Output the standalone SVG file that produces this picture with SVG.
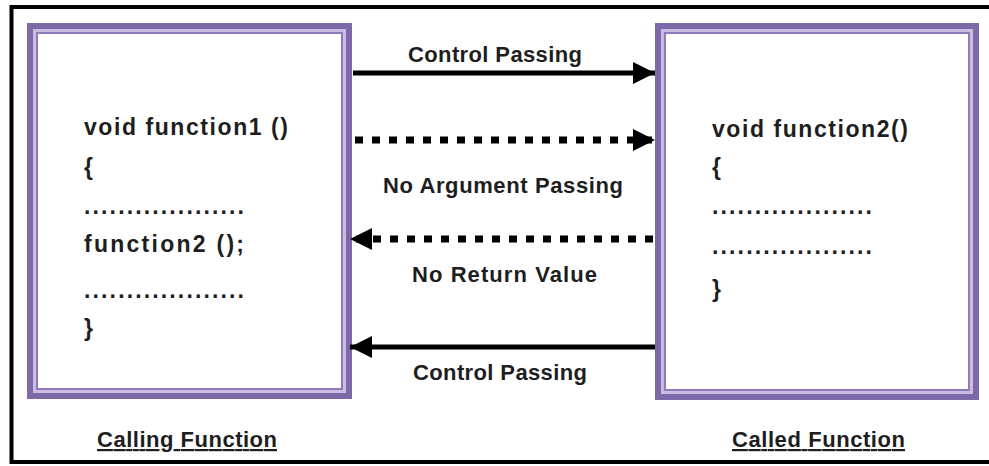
<svg xmlns="http://www.w3.org/2000/svg" width="989" height="466" viewBox="0 0 989 466">
<style>
text{font-family:"Liberation Sans",Arial,sans-serif;font-weight:bold;fill:#1e1e1e;}
.code{font-size:23px;}
.lbl{font-size:22px;}
.cap{font-size:22px;text-decoration:underline;}
.band{fill:none;stroke:#7d68a8;stroke-width:6;}
.gap{fill:none;stroke:#cbbce4;stroke-width:3;}
.thin{fill:none;stroke:#8f7bba;stroke-width:2;}
.solid{stroke:#000;stroke-width:5;fill:none;}
.dot{stroke:#000;stroke-width:7;fill:none;stroke-dasharray:8 9;}
</style>
<defs>
<marker id="ah" markerUnits="userSpaceOnUse" markerWidth="24" markerHeight="24" refX="22" refY="12" orient="auto">
<path d="M0,1 L22,12 L0,23 Z" fill="#000"/>
</marker>
</defs>
<rect width="989" height="466" fill="#fff"/>
<rect x="11.5" y="7" width="990" height="455" fill="#fff" stroke="#000" stroke-width="4"/>

<g id="calling">
<rect class="band" x="30" y="26" width="319" height="370"/>
<rect class="gap" x="34.5" y="30.5" width="310" height="361"/>
<rect class="thin" x="37" y="33" width="305" height="356" fill="#fff"/>
<text class="code" x="84" y="135" textLength="204" lengthAdjust="spacing">void function1 ()</text>
<text class="code" x="84" y="175">{</text>
<text class="code" x="84" y="214" textLength="160" lengthAdjust="spacing">...................</text>
<text class="code" x="84" y="252" textLength="160" lengthAdjust="spacing">function2 ();</text>
<text class="code" x="84" y="298" textLength="160" lengthAdjust="spacing">...................</text>
<text class="code" x="84" y="336">}</text>
</g>

<g id="called">
<rect class="band" x="658" y="26" width="318" height="371"/>
<rect class="gap" x="662.5" y="30.5" width="309" height="362"/>
<rect class="thin" x="665" y="33" width="304" height="357" fill="#fff"/>
<text class="code" x="712" y="137" textLength="196" lengthAdjust="spacing">void function2()</text>
<text class="code" x="712" y="175">{</text>
<text class="code" x="712" y="214" textLength="160" lengthAdjust="spacing">...................</text>
<text class="code" x="712" y="254" textLength="160" lengthAdjust="spacing">...................</text>
<text class="code" x="712" y="297">}</text>
</g>

<g id="connectors">
<line class="solid" x1="353" y1="73" x2="655" y2="73" marker-end="url(#ah)"/>
<line class="dot" x1="355" y1="140" x2="655" y2="140" marker-end="url(#ah)"/>
<line class="dot" x1="653" y1="239" x2="350" y2="239" marker-end="url(#ah)"/>
<line class="solid" x1="655" y1="347" x2="350" y2="347" marker-end="url(#ah)"/>
<text class="lbl" x="408" y="62" textLength="174" lengthAdjust="spacing">Control Passing</text>
<text class="lbl" x="383" y="193" textLength="240" lengthAdjust="spacing">No Argument Passing</text>
<text class="lbl" x="412" y="282" textLength="185" lengthAdjust="spacing">No Return Value</text>
<text class="lbl" x="413" y="380" textLength="174" lengthAdjust="spacing">Control Passing</text>
</g>

<g id="captions">
<text class="cap" x="97" y="447" textLength="180" lengthAdjust="spacing">Calling Function</text>
<text class="cap" x="732" y="447" textLength="173" lengthAdjust="spacing">Called Function</text>
</g>
</svg>
